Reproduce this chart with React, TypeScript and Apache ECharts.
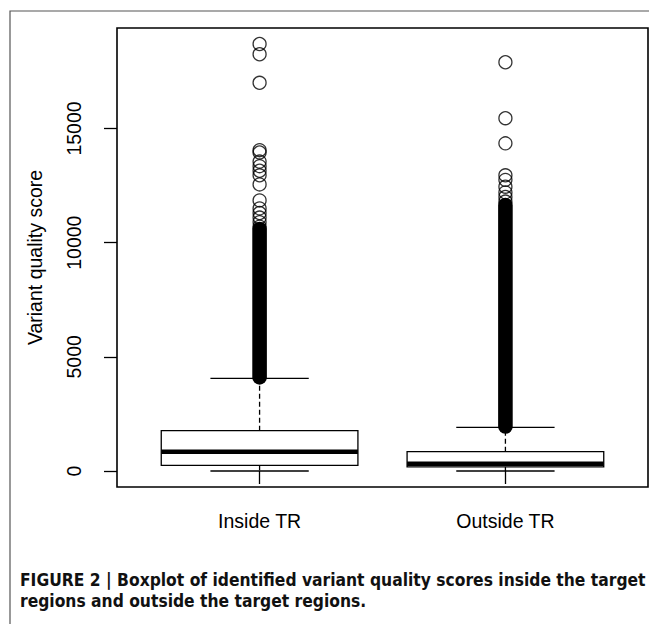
import React, { useEffect, useRef } from "react";
import * as echarts from "echarts";

const categories = ["Inside TR", "Outside TR"];
const lowerWhisker = [0, 0];
const q1 = [250, 185];
const median = [840, 320];
const q3 = [1765, 845];
const upperWhisker = [4060, 1914];
// individually visible outliers
const insideOutliers = [18700, 18250, 17000, 14050, 13950, 13550, 13350, 13150, 12950, 12550, 11850, 11500, 11300, 11100, 10900, 10700];
const outsideOutliers = [17900, 15450, 14350, 12950, 12750, 12450, 12200, 12000, 11800];
// range covered by densely overlapping outliers (drawn as a solid band)
const denseLow = [4100, 1950];
const denseHigh = [10600, 11650];
const yTicks = [0, 5000, 10000, 15000];
const caption1 = "FIGURE 2 | Boxplot of identified variant quality scores inside the target";
const caption2 = "regions and outside the target regions.";

export default function App() {
  const ref = useRef<HTMLDivElement>(null);
  useEffect(() => {
    if (!ref.current) return;
    const chart = echarts.init(ref.current, null, { renderer: "svg" });
    const font = "'Liberation Sans', Arial, sans-serif";
    const capFont = "bold 17.3px 'Liberation Sans Narrow', 'DejaVu Sans Condensed', sans-serif";
    const boxData = categories.map((c, i) => [i + 1, lowerWhisker[i], q1[i], median[i], q3[i], upperWhisker[i]]);
    const bandData = categories.map((c, i) => [i + 1, denseLow[i], denseHigh[i]]);
    const outlierData: number[][] = [];
    insideOutliers.forEach((v) => outlierData.push([1, v]));
    outsideOutliers.forEach((v) => outlierData.push([2, v]));

    chart.setOption({
      animation: false,
      backgroundColor: "#fff",
      grid: {
        left: 117,
        top: 28,
        width: 531,
        height: 459,
        show: true,
        borderColor: "#000",
        borderWidth: 1.6,
        backgroundColor: "transparent",
      },
      xAxis: {
        type: "value",
        min: 0.42,
        max: 2.58,
        splitLine: { show: false },
        axisLine: { show: false },
        axisTick: { show: true, customValues: [1, 2], length: 13, lineStyle: { color: "#000", width: 1.3 } },
        axisLabel: {
          customValues: [1, 2],
          formatter: (v: number) => categories[Math.round(v) - 1] || "",
          color: "#000",
          fontSize: 19.5,
          fontFamily: font,
          margin: 24,
        },
      },
      yAxis: {
        type: "value",
        min: -700,
        max: 19400,
        name: "Variant quality score",
        nameLocation: "middle",
        nameGap: 72,
        nameTextStyle: { color: "#000", fontSize: 19.5, fontFamily: font },
        splitLine: { show: false },
        axisLine: { show: false },
        axisTick: { show: true, customValues: yTicks, length: 13, lineStyle: { color: "#000", width: 1.3 } },
        axisLabel: {
          customValues: yTicks,
          formatter: (v: number) => String(v),
          rotate: 90,
          color: "#000",
          fontSize: 19.5,
          fontFamily: font,
          margin: 33,
        },
      },
      graphic: [
        {
          type: "rect",
          shape: { x: 10, y: 11, width: 700, height: 700 },
          style: { fill: "transparent", stroke: "#555", lineWidth: 1.2 },
          silent: true,
        },
        {
          type: "text",
          x: 20,
          y: 580,
          style: { text: caption1, fill: "#111", font: capFont, verticalAlign: "middle" },
        },
        {
          type: "text",
          x: 20,
          y: 601,
          style: { text: caption2, fill: "#111", font: capFont, verticalAlign: "middle" },
        },
      ],
      series: [
        {
          type: "custom",
          data: boxData,
          renderItem: (params: any, api: any) => {
            const x = api.value(0);
            const lw = api.coord([x, api.value(1)]);
            const b1 = api.coord([x, api.value(2)]);
            const md = api.coord([x, api.value(3)]);
            const b3 = api.coord([x, api.value(4)]);
            const uw = api.coord([x, api.value(5)]);
            const w = api.size([0.8, 0])[0];
            const cx = b1[0];
            const left = cx - w / 2;
            const line = { stroke: "#000", lineWidth: 1.3 };
            return {
              type: "group",
              children: [
                { type: "line", shape: { x1: cx, y1: b3[1], x2: cx, y2: uw[1] }, style: { ...line, lineDash: [5, 3] } },
                { type: "line", shape: { x1: cx, y1: b1[1], x2: cx, y2: lw[1] }, style: { ...line, lineDash: [5, 3] } },
                { type: "line", shape: { x1: cx - w / 4, y1: uw[1], x2: cx + w / 4, y2: uw[1] }, style: line },
                { type: "line", shape: { x1: cx - w / 4, y1: lw[1], x2: cx + w / 4, y2: lw[1] }, style: line },
                { type: "rect", shape: { x: left, y: b3[1], width: w, height: b1[1] - b3[1] }, style: { fill: "#fff", ...line } },
                { type: "line", shape: { x1: left, y1: md[1], x2: left + w, y2: md[1] }, style: { stroke: "#000", lineWidth: 4.5 } },
              ],
            };
          },
          z: 2,
        },
        {
          type: "custom",
          data: bandData,
          renderItem: (params: any, api: any) => {
            const x = api.value(0);
            const lo = api.coord([x, api.value(1)]);
            const hi = api.coord([x, api.value(2)]);
            const r = 7.3;
            return {
              type: "rect",
              shape: { x: lo[0] - r, y: hi[1] - r, width: 2 * r, height: lo[1] - hi[1] + 2 * r, r: r },
              style: { fill: "#000" },
            };
          },
          z: 3,
        },
        {
          type: "scatter",
          data: outlierData,
          symbol: "circle",
          symbolSize: 13,
          itemStyle: { color: "rgba(0,0,0,0)", borderColor: "#000", borderWidth: 1.3 },
          z: 4,
        },
      ],
    });
    return () => chart.dispose();
  }, []);
  return <div ref={ref} style={{ position: "fixed", left: 0, top: 0, width: 649, height: 624 }} />;
}
